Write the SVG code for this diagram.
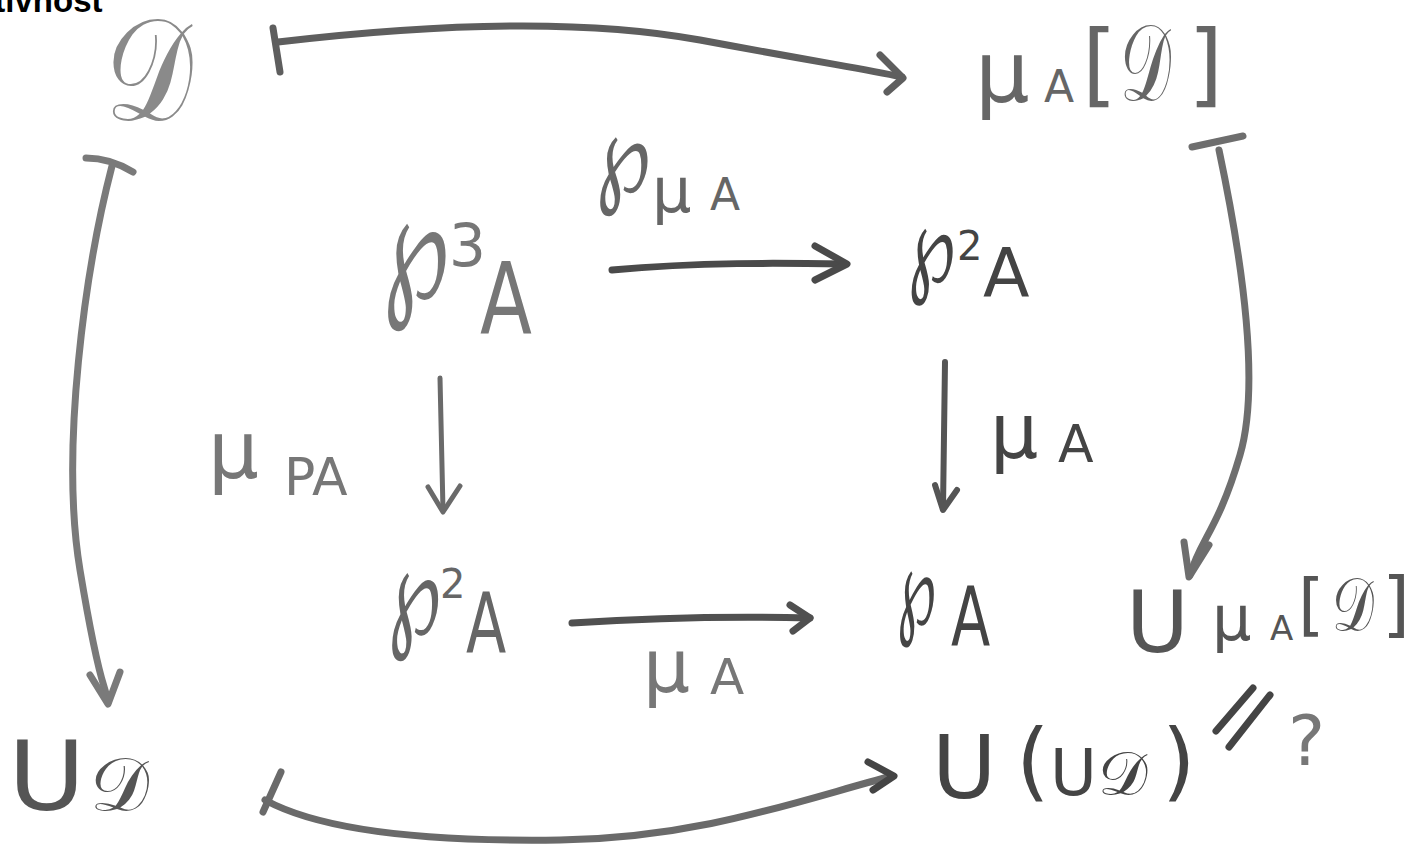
<svg xmlns="http://www.w3.org/2000/svg" width="1412" height="850" viewBox="0 0 1412 850">
<style>
.t{font-family:"DejaVu Sans","Noto Sans",sans-serif;}
.s{font-family:"DejaVu Serif","DejaVu Sans","Noto Sans",serif;}
.c{fill:none;stroke-linecap:round;stroke-linejoin:round;}
</style>
<rect width="1412" height="850" fill="#ffffff"/>
<text x="-24" y="12" font-family="Liberation Sans, Arial, sans-serif" font-weight="bold" font-size="33" fill="#000">ativnost</text>
<g id="conn" class="c">
  <g stroke="#5e5e5e" stroke-width="7">
    <path d="M273 28 L280 72"/>
    <path d="M278 42 C 380 30, 560 14, 700 40 S 860 68, 902 77"/>
    <path d="M880 55 L903 78 L887 92"/>
  </g>
  <g stroke="#7a7a7a" stroke-width="7">
    <path d="M86 158 Q110 158 133 172"/>
    <path d="M112 166 C 85 270, 60 450, 80 570 S 104 680, 108 702"/>
    <path d="M90 675 L108 704 L120 672"/>
  </g>
  <g stroke="#6e6e6e" stroke-width="7">
    <path d="M1192 147 L1243 136"/>
    <path d="M1219 150 C 1238 240, 1262 380, 1240 455 S 1200 540, 1190 575"/>
    <path d="M1184 542 L1189 577 L1209 545"/>
  </g>
  <g stroke="#6a6a6a" stroke-width="7">
    <path d="M281 772 L263 812"/>
    <path d="M265 800 C 320 830, 420 842, 560 840 C 700 838, 800 800, 892 776"/>
    <path d="M868 762 L894 776 L873 790" stroke="#444"/>
  </g>
  <g stroke="#4a4a4a" stroke-width="7">
    <path d="M612 270 C 700 262, 780 263, 845 264"/>
    <path d="M815 246 L847 264 L815 280"/>
  </g>
  <g stroke="#6a6a6a" stroke-width="5">
    <path d="M440 378 L443 510"/>
    <path d="M428 487 L443 512 L460 486"/>
  </g>
  <g stroke="#555" stroke-width="6">
    <path d="M945 362 L943 508"/>
    <path d="M935 485 L943 510 L957 490"/>
  </g>
  <g stroke="#505050" stroke-width="7">
    <path d="M572 623 C 650 618, 730 616, 810 618"/>
    <path d="M790 605 L810 618 L793 631"/>
  </g>
  <g stroke="#444" stroke-width="7">
    <path d="M1216 731 L1253 688"/>
    <path d="M1229 747 L1270 695"/>
  </g>
</g>
<g id="D" class="s" fill="#8a8a8a"><text transform="translate(105,120) scale(1,1.32)" font-size="110">𝒟</text></g>
<g id="muAD" class="t" fill="#666"><text x="975" y="102" font-size="86">μ</text><text x="1044" y="102" font-size="44">A</text><text x="1082" y="95" font-size="90">[</text><text class="s" transform="translate(1120,100) scale(0.8,1.35)" font-size="80">𝒟</text><text x="1188" y="95" font-size="90">]</text></g>
<g id="PmuA" class="t" fill="#666"><text transform="translate(596,192) scale(0.98,1.38)" font-size="80">℘</text><text x="652" y="212" font-size="62">μ</text><text x="710" y="210" font-size="44">A</text></g>
<g id="P3A" class="t" fill="#777"><text transform="translate(383,298) scale(0.95,1.5)" font-size="100">℘</text><text x="449" y="266" font-size="58">3</text><text transform="translate(480,334) scale(0.76,1)" font-size="100">A</text></g>
<g id="P2A-r" class="t" fill="#444"><text transform="translate(908,282) scale(0.97,1.54)" font-size="70">℘</text><text x="957" y="260" font-size="40">2</text><text x="983" y="297" font-size="68">A</text></g>
<g id="muPA" class="t" fill="#777"><text x="208" y="478" font-size="80">μ</text><text x="284" y="495" font-size="52">PA</text></g>
<g id="muA-r" class="t" fill="#444"><text x="990" y="458" font-size="76">μ</text><text x="1058" y="462" font-size="52">A</text></g>
<g id="P2A-b" class="t" fill="#666"><text transform="translate(388,634) scale(1,1.62)" font-size="76">℘</text><text x="440" y="598" font-size="40">2</text><text transform="translate(466,653) scale(0.7,1)" font-size="84">A</text></g>
<g id="PA" class="t" fill="#444"><text transform="translate(897,624) scale(1,1.9)" font-size="56">℘</text><text transform="translate(951,645) scale(0.7,1)" font-size="82">A</text></g>
<g id="muA-b" class="t" fill="#777"><text x="643" y="692" font-size="74">μ</text><text x="710" y="694" font-size="50">A</text></g>
<g id="UmuAD" class="t" fill="#555"><text x="1126" y="652" font-size="86">U</text><text x="1212" y="640" font-size="62">μ</text><text x="1270" y="640" font-size="34">A</text><text x="1298" y="628" font-size="68">[</text><text class="s" transform="translate(1332,630) scale(0.85,1.2)" font-size="62">𝒟</text><text x="1382" y="628" font-size="72">]</text></g>
<g id="UD" class="t" fill="#555"><text transform="translate(8,810) scale(1.1,1)" font-size="96">U</text><text x="90" y="810" class="s" font-size="74">𝒟</text></g>
<g id="UUD" class="t" fill="#444"><text x="932" y="798" font-size="88">U</text><text x="1016" y="790" font-size="86">(</text><text x="1050" y="795" font-size="64">U</text><text x="1098" y="795" class="s" font-size="62">𝒟</text><text x="1162" y="790" font-size="86">)</text></g>
<g id="q" class="t" fill="#777"><text x="1288" y="765" font-size="70">?</text></g>
</svg>
